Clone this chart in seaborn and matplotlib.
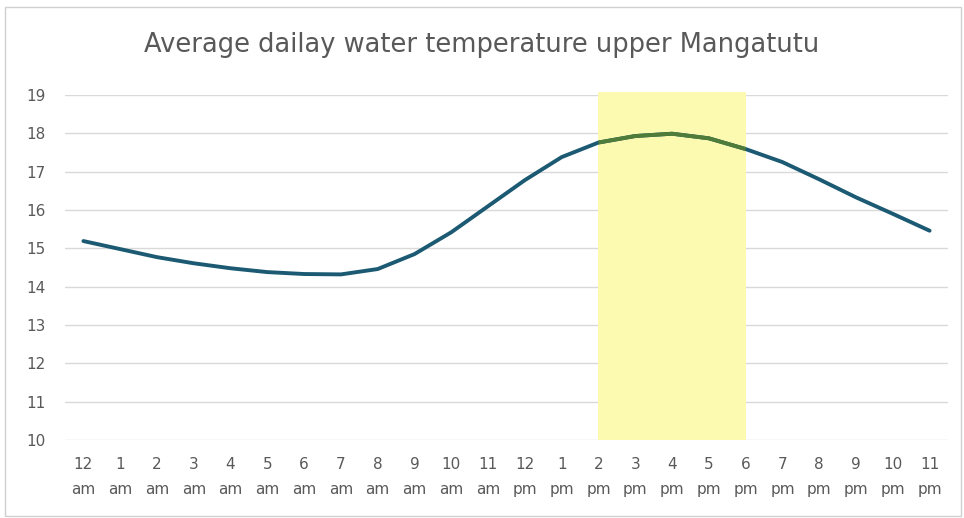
import matplotlib
matplotlib.use("Agg")
import matplotlib.pyplot as plt
import matplotlib.patches as patches
import numpy as np
import pandas as pd
import seaborn as sns

# data
hours = ["12", "1", "2", "3", "4", "5", "6", "7", "8", "9", "10", "11",
         "12", "1", "2", "3", "4", "5", "6", "7", "8", "9", "10", "11"]
periods = ["am"] * 12 + ["pm"] * 12
temps = [15.19, 14.98, 14.77, 14.61, 14.48, 14.38, 14.33, 14.32, 14.46, 14.85,
         15.42, 16.10, 16.78, 17.38, 17.76, 17.93, 17.99, 17.87, 17.59, 17.25,
         16.80, 16.33, 15.90, 15.46]
highlight = (14, 18)  # 2 pm to 6 pm
y_ticks = list(range(10, 20))

sns.set_theme(style="white")
plt.rcParams["font.family"] = ["DejaVu Sans"]

GREY = "#595959"
LINE = "#1b5a72"
GREEN = "#4f7c38"

df = pd.DataFrame({"idx": np.arange(len(temps)), "temp": temps})
hi = df[(df["idx"] >= highlight[0]) & (df["idx"] <= highlight[1])]

fig = plt.figure(figsize=(9.64, 5.18), dpi=100)
ax = fig.add_axes([65 / 964, 78 / 518, 883 / 964, 345 / 518])

ax.axvspan(highlight[0], highlight[1], ymax=1.008, color="#fcfab0",
           lw=0, zorder=1, clip_on=False)
sns.lineplot(data=df, x="idx", y="temp", ax=ax, color=LINE, linewidth=2.8,
             solid_capstyle="round", zorder=3)
# the part of the line under the yellow band looks green in the original
sns.lineplot(data=hi, x="idx", y="temp", ax=ax, color=GREEN, linewidth=2.8,
             solid_capstyle="butt", zorder=4)

ax.set_xlim(-0.5, len(temps) - 0.5)
ax.set_ylim(10, 19)
ax.set_yticks(y_ticks)
ax.set_yticklabels([str(t) for t in y_ticks], fontsize=11, color=GREY)
ax.set_xticks(df["idx"])
ax.set_xticklabels([f"{h}\n{p}" for h, p in zip(hours, periods)],
                   fontsize=11, color=GREY, linespacing=1.9)
ax.tick_params(axis="both", length=0)
ax.tick_params(axis="x", pad=12)
ax.tick_params(axis="y", pad=14)
ax.grid(axis="y", color="#d9d9d9", linewidth=1, zorder=0)
ax.set_axisbelow(True)
for s in ax.spines.values():
    s.set_visible(False)
ax.set_xlabel("")
ax.set_ylabel("")

fig.text(0.5, 1 - 45 / 518, "Average dailay water temperature upper Mangatutu",
         ha="center", va="center", fontsize=18.5, color=GREY)

fig.patches.append(patches.Rectangle((5 / 964, 2 / 518), 956 / 964, 509 / 518,
                                     transform=fig.transFigure, fill=False,
                                     edgecolor="#d0d0d0", linewidth=1))

fig.savefig("out.png", dpi=100)
